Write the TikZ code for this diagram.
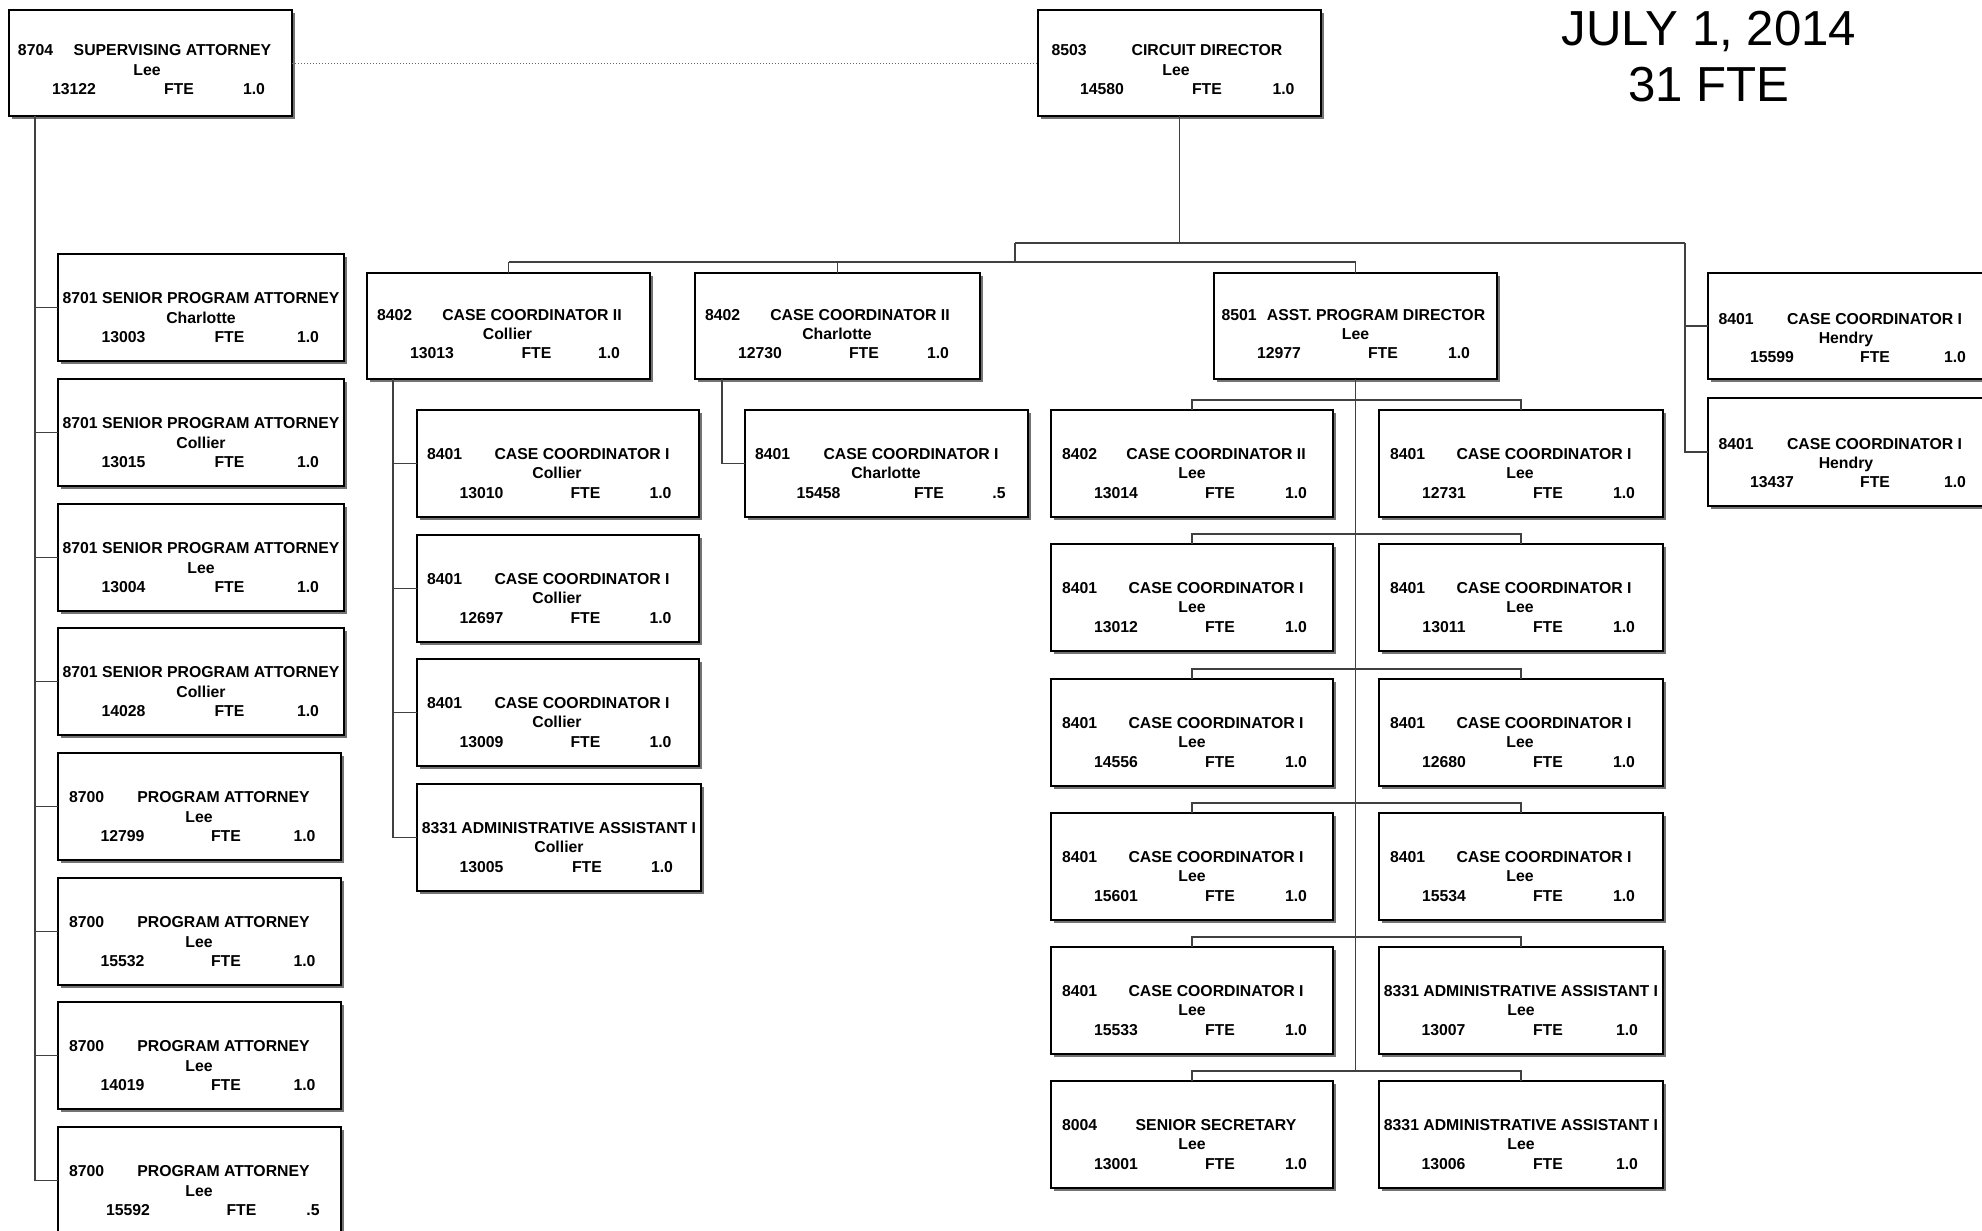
\documentclass[tikz,border=0pt]{standalone}
\usepackage{fontspec}
\setmainfont{Liberation Sans}
\usetikzlibrary{calc}

\tikzset{
  obbox/.style={rectangle, draw=black, fill=white, line width=0.85pt, inner sep=0pt, outer sep=0pt},
  obshadow/.style={fill=black!55},
  obtxt/.style={inner sep=0pt, outer sep=0pt, font=\fontsize{7.9pt}{9pt}\selectfont\bfseries},
  conn/.style={draw=black!75, line width=0.6pt},
  dotconn/.style={draw=black!60, line width=0.5pt, densely dotted},
  headtxt/.style={inner sep=0pt, outer sep=0pt, font=\fontsize{24.6pt}{29pt}\selectfont}
}

% layout offsets inside a position box (in px units of the picture)
\def\obH{107}
\newcommand\obrows[3]{\def\obYa{#1}\def\obYb{#2}\def\obYc{#3}}
\obrows{49}{68}{87}
\newcommand\obset[6]{\def\obC{#1}\def\obT{#2}\def\obL{#3}\def\obN{#4}\def\obF{#5}\def\obV{#6}}
\obset{10}{165}{140}{65}{170}{245}

% \ob{name}{left}{top}{width}{code}{title}{location}{position no.}{fte}
\newcommand\ob[9]{%
  \fill[obshadow] ({#2+3},{#3+3}) rectangle ({#2+#4+3},{#3+\obH+3});
  \node[obbox, minimum width={#4*0.5pt}, minimum height={\obH*0.5pt}, anchor=north west] (#1) at (#2,#3) {};
  \if\relax\detokenize{#5}\relax\else
    \node[obtxt, anchor=base west] (#1-c) at ({#2+\obC},{#3+\obYa}) {#5};
  \fi
  \node[obtxt, anchor=base] (#1-t) at ({#2+\obT},{#3+\obYa}) {#6};
  \node[obtxt, anchor=base] (#1-l) at ({#2+\obL},{#3+\obYb}) {#7};
  \node[obtxt, anchor=base] (#1-n) at ({#2+\obN},{#3+\obYc}) {#8};
  \node[obtxt, anchor=base] (#1-f) at ({#2+\obF},{#3+\obYc}) {FTE};
  \node[obtxt, anchor=base] (#1-v) at ({#2+\obV},{#3+\obYc}) {#9};
}

\begin{document}
\begin{tikzpicture}[x=0.5pt, y=-0.5pt]
\useasboundingbox (0,0) rectangle (1982,1231);
\clip (0,0) rectangle (1982,1231);

% heading
\node[headtxt, anchor=base] (date) at (1709,46) {JULY 1, 2014};
\node[headtxt, anchor=base] (total) at (1709,101) {31 FTE};

% top level
\def\obH{106}
\obrows{45.5}{65}{84}
\obset{9}{163.5}{138}{65}{170}{245}
\ob{sup}{9}{10}{283}{8704}{SUPERVISING ATTORNEY}{Lee}{13122}{1.0}
\obset{13.5}{169}{138}{64}{169}{245.5}
\ob{cd}{1038}{10}{283}{8503}{CIRCUIT DIRECTOR}{Lee}{14580}{1.0}

% attorneys
\def\obH{107}
\obrows{49.5}{69}{88.5}
\obset{10}{143}{143}{65.5}{171.5}{250}
\ob{lc1}{58}{254}{286}{}{8701 SENIOR PROGRAM ATTORNEY}{Charlotte}{13003}{1.0}
\ob{lc2}{58}{379}{286}{}{8701 SENIOR PROGRAM ATTORNEY}{Collier}{13015}{1.0}
\ob{lc3}{58}{504}{286}{}{8701 SENIOR PROGRAM ATTORNEY}{Lee}{13004}{1.0}
\ob{lc4}{58}{628}{286}{}{8701 SENIOR PROGRAM ATTORNEY}{Collier}{14028}{1.0}
\obset{11}{165.5}{141}{64.5}{168}{246.5}
\ob{lc5}{58}{753}{283}{8700}{PROGRAM ATTORNEY}{Lee}{12799}{1.0}
\ob{lc6}{58}{878}{283}{8700}{PROGRAM ATTORNEY}{Lee}{15532}{1.0}
\ob{lc7}{58}{1002}{283}{8700}{PROGRAM ATTORNEY}{Lee}{14019}{1.0}
\obset{11}{165.5}{141}{70}{183.5}{255}
\ob{lc8}{58}{1127}{283}{8700}{PROGRAM ATTORNEY}{Lee}{15592}{.5}

% unit heads on the second row
\def\obH{106}
\obrows{47}{66}{85.5}
\obset{10}{165}{140.5}{65}{169.5}{242}
\ob{ccA}{367}{273}{283}{8402}{CASE COORDINATOR II}{Collier}{13013}{1.0}
\obset{10}{165}{142}{65}{169}{243}
\ob{ccB}{695}{273}{285}{8402}{CASE COORDINATOR II}{Charlotte}{12730}{1.0}
\obset{7.5}{162}{141.5}{65}{169}{245}
\ob{asst}{1214}{273}{283}{8501}{ASST. PROGRAM DIRECTOR}{Lee}{12977}{1.0}

% Hendry unit
\obrows{51}{70}{89}
\obset{10.5}{166.5}{138}{64}{167}{247}
\ob{h1}{1708}{273}{283}{8401}{CASE COORDINATOR I}{Hendry}{15599}{1.0}
\def\obH{108}
\ob{h2}{1708}{398}{283}{8401}{CASE COORDINATOR I}{Hendry}{13437}{1.0}

% Collier unit
\def\obH{107}
\obrows{49.5}{68.5}{88}
\obset{10}{165}{140}{64.5}{168.5}{243.5}
\ob{cA1}{417}{410}{282}{8401}{CASE COORDINATOR I}{Collier}{13010}{1.0}
\ob{cA2}{417}{535}{282}{8401}{CASE COORDINATOR I}{Collier}{12697}{1.0}
\ob{cA3}{417}{659}{282}{8401}{CASE COORDINATOR I}{Collier}{13009}{1.0}
\obset{10}{142}{142}{64.5}{170}{245}
\ob{cA4}{417}{784}{284}{}{8331 ADMINISTRATIVE ASSISTANT I}{Collier}{13005}{1.0}

% Charlotte unit
\obset{10}{166}{141}{73.5}{184}{254}
\ob{cB1}{745}{410}{283}{8401}{CASE COORDINATOR I}{Charlotte}{15458}{.5}

% Lee unit
\obset{11}{165}{141}{65}{169}{245}
\ob{gL1}{1051}{410}{282}{8402}{CASE COORDINATOR II}{Lee}{13014}{1.0}
\ob{gR1}{1379}{410}{284}{8401}{CASE COORDINATOR I}{Lee}{12731}{1.0}
\ob{gL2}{1051}{544}{282}{8401}{CASE COORDINATOR I}{Lee}{13012}{1.0}
\ob{gR2}{1379}{544}{284}{8401}{CASE COORDINATOR I}{Lee}{13011}{1.0}
\ob{gL3}{1051}{679}{282}{8401}{CASE COORDINATOR I}{Lee}{14556}{1.0}
\ob{gR3}{1379}{679}{284}{8401}{CASE COORDINATOR I}{Lee}{12680}{1.0}
\ob{gL4}{1051}{813}{282}{8401}{CASE COORDINATOR I}{Lee}{15601}{1.0}
\ob{gR4}{1379}{813}{284}{8401}{CASE COORDINATOR I}{Lee}{15534}{1.0}
\ob{gL5}{1051}{947}{282}{8401}{CASE COORDINATOR I}{Lee}{15533}{1.0}
\ob{gL6}{1051}{1081}{282}{8004}{SENIOR SECRETARY}{Lee}{13001}{1.0}
\obset{10}{142}{142}{64.5}{169}{248}
\ob{gR5}{1379}{947}{284}{}{8331 ADMINISTRATIVE ASSISTANT I}{Lee}{13007}{1.0}
\ob{gR6}{1379}{1081}{284}{}{8331 ADMINISTRATIVE ASSISTANT I}{Lee}{13006}{1.0}

% connectors
\draw[dotconn] (sup.east) -- (cd.west);

\coordinate (sL) at ($(sup.south west)+(26,0)$);
\foreach \i in {1,...,8} {\draw[conn] (sL) |- (lc\i.west);}

\coordinate (b1) at (1015,243);
\coordinate (b2) at (1015,262);
\coordinate (jr) at (1685,243);
\draw[conn] (cd.south) -- (cd.south |- b1);
\draw[conn] (b1) -- (jr);
\draw[conn] (b1) -- (b2);
\draw[conn] (ccA.north |- b2) -- (asst.north |- b2);
\draw[conn] (ccA.north) -- (ccA.north |- b2);
\draw[conn] (ccB.north) -- (ccB.north |- b2);
\draw[conn] (asst.north) -- (asst.north |- b2);
\draw[conn] (jr) |- (h1.west);
\draw[conn] (jr) |- (h2.west);

\coordinate (sA) at ($(ccA.south west)+(26,0)$);
\foreach \i in {1,...,4} {\draw[conn] (sA) |- (cA\i.west);}

\coordinate (sB) at ($(ccB.south west)+(27,0)$);
\draw[conn] (sB) |- (cB1.west);

\coordinate (k6) at ($(gL6.north)+(0,-10)$);
\draw[conn] (asst.south) -- (asst.south |- k6);
\foreach \i in {1,...,6} {\draw[conn] (gL\i.north) -- ++(0,-10) -| (gR\i.north);}
\end{tikzpicture}
\end{document}
